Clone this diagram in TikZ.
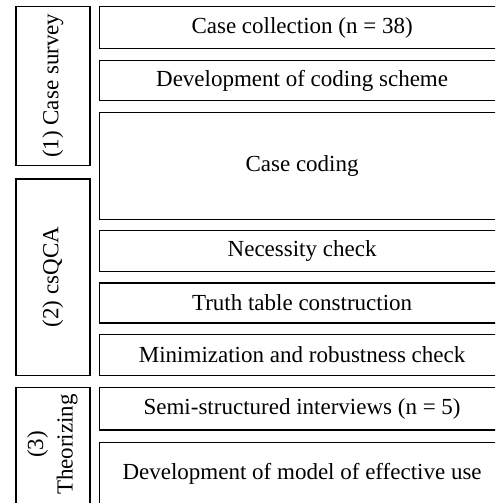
\documentclass[tikz,border=0pt]{standalone}
\usepackage{fontspec}
\setmainfont{Liberation Serif}
\begin{document}
\begin{tikzpicture}[x=1pt,y=-1pt,
  every node/.style={font=\fontsize{23}{28}\selectfont},
  stepbox/.style={draw, line width=1.2pt, anchor=north west, inner sep=0pt,
    minimum width=405pt, align=center},
  phasebox/.style={draw, line width=1.2pt, anchor=north west, inner sep=0pt,
    minimum width=74pt},
  phaselabel/.style={rotate=90, align=center, inner sep=0pt}]
\useasboundingbox (0,0) rectangle (495,503);
\clip (0,0) rectangle (495,503);

% phase boxes on the left
\node[phasebox, minimum height=159pt] (p1) at (15.3,5.7) {};
\node[phasebox, minimum height=196.4pt] (p2) at (15.3,178.3) {};
\node[phasebox, minimum height=120pt] (p3) at (15.3,387) {};
\node[phaselabel] (t1) at (p1.center) {(1) Case survey};
\node[phaselabel] (t2) at (p2.center) {(2) csQCA};
\node[phaselabel, font=\fontsize{23}{29.5}\selectfont] (t3) at (52.3,444.5) {(3)\\Theorizing};

% research steps on the right
\node[stepbox, minimum height=42.3pt] (s1) at (99,6) {Case collection (n = 38)};
\node[stepbox, minimum height=39.7pt] (s2) at (99,60) {Development of coding scheme};
\node[stepbox, minimum height=107.3pt] (s3) at (99,111.7) {Case coding};
\node[stepbox, minimum height=40.7pt] (s4) at (99,230) {Necessity check};
\node[stepbox, minimum height=40pt] (s5) at (99,282.3) {Truth table construction};
\node[stepbox, minimum height=40.7pt] (s6) at (99,334) {Minimization and robustness check};
\node[stepbox, minimum height=42.3pt] (s7) at (99,387) {Semi-structured interviews (n = 5)};
\node[stepbox, minimum height=62pt] (s8) at (99,442) {Development of model of effective use};
\end{tikzpicture}
\end{document}
